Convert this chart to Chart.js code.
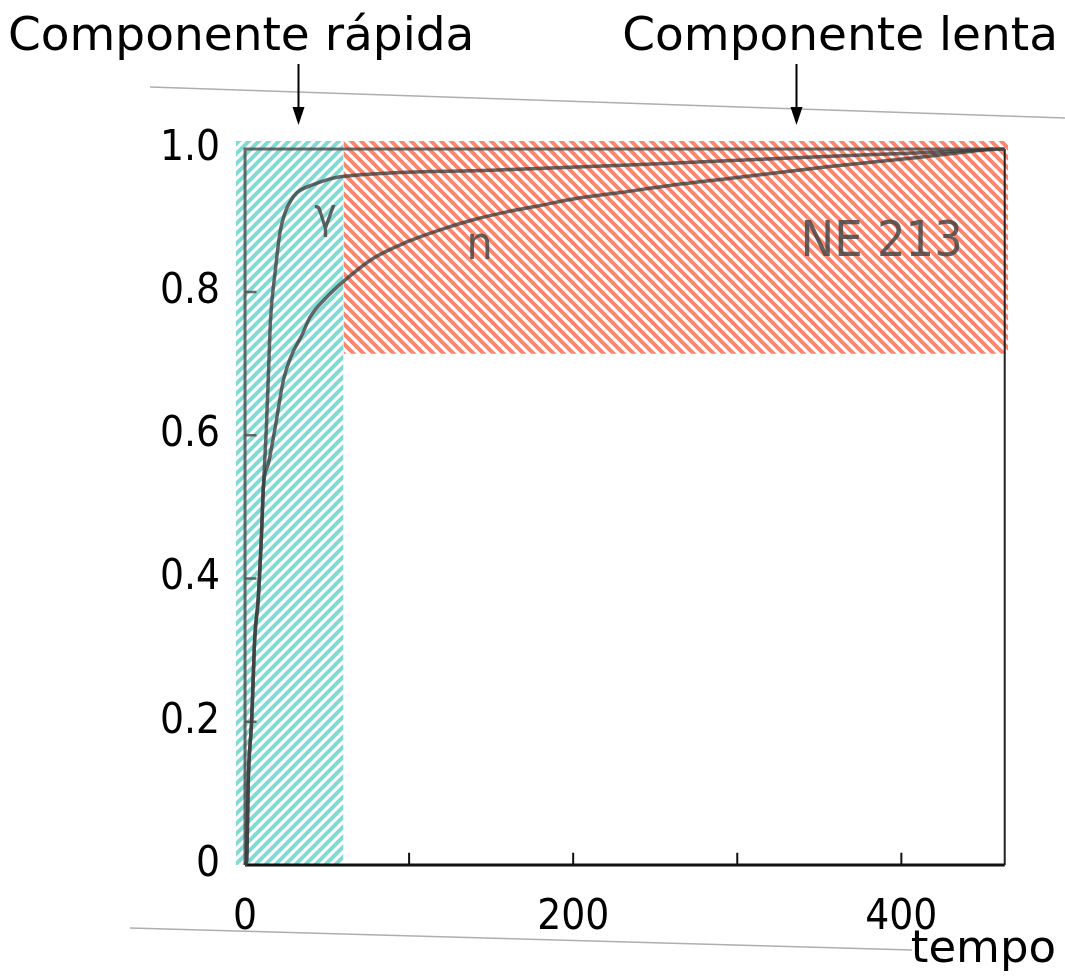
<!DOCTYPE html>
<html>

<head>
    <title>Componente rápida / lenta</title>
    <script src="https://cdn.jsdelivr.net/npm/chart.js"></script>
    <style>
        body { margin: 0; background: #fff; }
    </style>
</head>

<body>
    <canvas id="pulseChart" width="1065" height="977"></canvas>

    <script>
        // tick values
        const xTicks = [0, 200, 400];
        const yTicks = [0, 0.2, 0.4, 0.6, 0.8, 1.0];
        const xInnerTicks = [100, 200, 300, 400];
        const yInnerTicks = [0.2, 0.4, 0.6, 0.8];

        // gamma curve
        const gammaX = [0, 1, 2, 4, 6, 8, 10, 11.2, 13, 14.5, 15.5, 18.3, 21.3, 24.4, 28, 31.7, 41.5, 58, 150, 259, 350, 416, 463];
        const gammaY = [0, 0.007, 0.12, 0.2, 0.32, 0.37, 0.46, 0.528, 0.61, 0.7, 0.76, 0.827, 0.883, 0.911, 0.928, 0.939, 0.95, 0.961, 0.97, 0.98, 0.989, 0.995, 1.0];

        // neutron curve
        const neutronX = [0, 1, 2, 4, 6, 8, 10, 11.2, 14.2, 18.3, 23.4, 28, 34.7, 39.6, 49.8, 60, 78, 98.6, 118.9, 139.2, 159.6, 180, 200, 228.7, 259, 300, 355, 410, 456];
        const neutronY = [0, 0.007, 0.12, 0.2, 0.32, 0.37, 0.46, 0.528, 0.56, 0.61, 0.677, 0.71, 0.74, 0.765, 0.793, 0.815, 0.847, 0.87, 0.887, 0.901, 0.912, 0.921, 0.93, 0.939, 0.949, 0.96, 0.975, 0.988, 1.0];

        // shaded regions: fast (x range, y up to top) and slow (x range, y range)
        const fastRegionX = [-5.5, 60];
        const slowRegionX = [60, 465];
        const slowRegionY = [0.714, 1.011];
        const frameXMax = 463;

        const pts = (xs, ys) => xs.map((x, i) => ({ x, y: ys[i] }));

        function hatch(color, rising) {
            const c = document.createElement('canvas');
            c.width = c.height = 10;
            const g = c.getContext('2d');
            g.strokeStyle = color;
            g.lineWidth = 4;
            g.beginPath();
            if (rising) {
                g.moveTo(-5, 5); g.lineTo(5, -5);
                g.moveTo(0, 10); g.lineTo(10, 0);
                g.moveTo(5, 15); g.lineTo(15, 5);
            } else {
                g.moveTo(-5, 5); g.lineTo(5, 15);
                g.moveTo(0, 0); g.lineTo(10, 10);
                g.moveTo(5, -5); g.lineTo(15, 5);
            }
            g.stroke();
            return g.createPattern(c, 'repeat');
        }

        const ctx = document.getElementById('pulseChart').getContext('2d');

        const curveColor = 'rgba(60,60,60,0.78)';
        const frameColor = 'rgba(80,80,80,0.85)';

        // short tick marks drawn inside the frame
        const xTickMarks = [];
        xInnerTicks.forEach(v => { xTickMarks.push({ x: v, y: 0 }, { x: v, y: 0.017 }, { x: v, y: null }); });
        const yTickMarks = [];
        yInnerTicks.forEach(v => { yTickMarks.push({ x: 0, y: v }, { x: 7, y: v }, { x: null, y: v }); });

        const lineDefaults = { pointRadius: 0, fill: false, spanGaps: false, tension: 0 };

        const data = {
            datasets: [
                {
                    ...lineDefaults,
                    data: [{ x: fastRegionX[0], y: slowRegionY[1] }, { x: fastRegionX[1], y: slowRegionY[1] }],
                    borderWidth: 0,
                    fill: 'origin',
                    backgroundColor: hatch('#7edbd6', true),
                    order: 10
                },
                {
                    ...lineDefaults,
                    data: [{ x: slowRegionX[0], y: slowRegionY[1] }, { x: slowRegionX[1], y: slowRegionY[1] }],
                    borderWidth: 0,
                    fill: { value: slowRegionY[0] },
                    backgroundColor: hatch('#fa876f', false),
                    order: 9
                },
                {
                    ...lineDefaults,
                    data: [{ x: 0, y: 0 }, { x: 0, y: 1 }, { x: frameXMax, y: 1 }],
                    borderColor: frameColor,
                    borderWidth: 3,
                    clip: false,
                    order: 5
                },
                {
                    ...lineDefaults,
                    data: [{ x: frameXMax, y: 1 }, { x: frameXMax, y: 0 }],
                    borderColor: '#222',
                    borderWidth: 2,
                    clip: false,
                    order: 5
                },
                {
                    ...lineDefaults,
                    data: [{ x: 0, y: 0 }, { x: frameXMax, y: 0 }],
                    borderColor: '#111',
                    borderWidth: 3,
                    clip: false,
                    order: 4
                },
                {
                    ...lineDefaults,
                    data: xTickMarks,
                    borderColor: '#111',
                    borderWidth: 2,
                    order: 4
                },
                {
                    ...lineDefaults,
                    data: yTickMarks,
                    borderColor: frameColor,
                    borderWidth: 2.5,
                    order: 4
                },
                {
                    ...lineDefaults,
                    label: 'γ',
                    data: pts(gammaX, gammaY),
                    borderColor: curveColor,
                    borderWidth: 3.5,
                    cubicInterpolationMode: 'monotone',
                    clip: false,
                    order: 1
                },
                {
                    ...lineDefaults,
                    label: 'n',
                    data: pts(neutronX, neutronY),
                    borderColor: curveColor,
                    borderWidth: 3.5,
                    cubicInterpolationMode: 'monotone',
                    clip: false,
                    order: 1
                }
            ]
        };

        // labels inside the plot, in data units
        const plotLabels = [
            { text: 'γ', x: 49, y: 0.905, size: 42 },
            { text: 'n', x: 143, y: 0.863, size: 46 },
            { text: 'NE 213', x: 388, y: 0.869, size: 50 }
        ];
        const arrowsAt = [32, 336];

        const decor = {
            id: 'decor',
            afterDraw(chart) {
                const c = chart.ctx;
                const xs = chart.scales.x, ys = chart.scales.y;
                c.save();

                // faint page edges of the scanned figure
                c.strokeStyle = 'rgba(120,120,120,0.6)';
                c.lineWidth = 1.5;
                c.beginPath();
                c.moveTo(150, 87); c.lineTo(1065, 118);
                c.moveTo(130, 928); c.lineTo(912, 950);
                c.stroke();

                c.fillStyle = '#000';
                c.font = '47px "DejaVu Sans", sans-serif';
                c.textBaseline = 'alphabetic';
                c.textAlign = 'left';
                c.fillText('Componente rápida', 8, 50);
                c.textAlign = 'right';
                c.fillText('Componente lenta', 1058, 50);
                c.font = '45px "DejaVu Sans", sans-serif';
                c.fillText('tempo', 1056, 962);

                // arrows
                c.strokeStyle = '#000';
                c.lineWidth = 2;
                arrowsAt.forEach(v => {
                    const px = Math.round(xs.getPixelForValue(v)) + 0.5;
                    const tip = chart.chartArea.top - 16;
                    c.beginPath();
                    c.moveTo(px, 64);
                    c.lineTo(px, tip - 14);
                    c.stroke();
                    c.beginPath();
                    c.moveTo(px, tip);
                    c.lineTo(px - 6, tip - 18);
                    c.lineTo(px + 6, tip - 18);
                    c.closePath();
                    c.fill();
                });

                c.fillStyle = 'rgba(70,70,70,0.85)';
                c.textAlign = 'center';
                c.textBaseline = 'middle';
                plotLabels.forEach(l => {
                    c.font = l.size + 'px "DejaVu Sans Condensed", "DejaVu Sans", sans-serif';
                    c.fillText(l.text, xs.getPixelForValue(l.x), ys.getPixelForValue(l.y));
                });
                c.restore();
            }
        };

        const tickFont = { family: '"DejaVu Sans Condensed", "DejaVu Sans", sans-serif', size: 42 };

        const options = {
            responsive: false,
            animation: false,
            events: [],
            layout: { padding: { top: 141, right: 57, left: 0, bottom: 0 } },
            plugins: {
                legend: { display: false },
                tooltip: { enabled: false }
            },
            scales: {
                x: {
                    type: 'linear',
                    min: fastRegionX[0],
                    max: slowRegionX[1],
                    afterBuildTicks: s => { s.ticks = xTicks.map(v => ({ value: v })); },
                    afterFit: s => { s.height = 112; },
                    grid: { display: false },
                    border: { display: false },
                    ticks: { color: '#000', font: tickFont, padding: 20, maxRotation: 0 }
                },
                y: {
                    type: 'linear',
                    min: 0,
                    max: slowRegionY[1],
                    afterBuildTicks: s => { s.ticks = yTicks.map(v => ({ value: v })); },
                    afterFit: s => { s.width = 236; },
                    grid: { display: false },
                    border: { display: false },
                    ticks: {
                        color: '#000',
                        font: tickFont,
                        padding: 8,
                        callback: v => (v === 0 ? '0' : v.toFixed(1))
                    }
                }
            }
        };

        new Chart(ctx, { type: 'line', data, options, plugins: [decor] });
    </script>

</body>

</html>
